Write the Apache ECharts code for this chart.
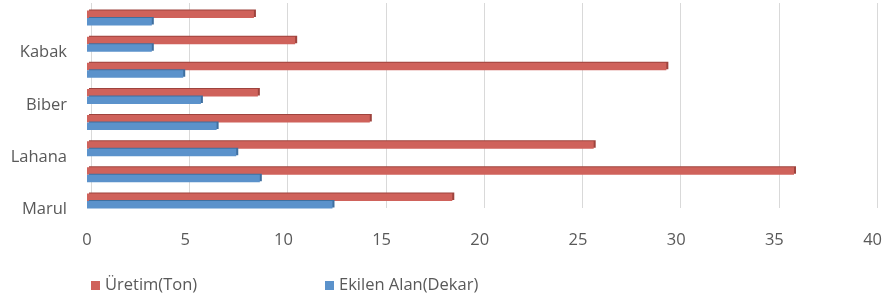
<!DOCTYPE html>
<html>
<head>
<meta charset="utf-8">
<script src="https://cdn.jsdelivr.net/npm/echarts@6/dist/echarts.min.js"></script>
<style>
  html, body { margin: 0; padding: 0; background: #fff; }
  #chart { width: 885px; height: 299px; }
</style>
</head>
<body>
<div id="chart"></div>
<script>
// categories from bottom to top, only every other name is shown on the axis
const categories = ['Marul', '(2)', 'Lahana', '(4)', 'Biber', '(6)', 'Kabak', '(8)']
const uretim = [18.6, 36.0, 25.8, 14.4, 8.7, 29.5, 10.6, 8.5]
const ekilenAlan = [12.5, 8.8, 7.6, 6.6, 5.8, 4.9, 3.3, 3.3]
const xTicks = [0, 5, 10, 15, 20, 25, 30, 35, 40]

const textColor = '#595959'
const fontFamily = '"Open Sans", sans-serif'
const fontSize = 16.5

const chart = echarts.init(document.getElementById('chart'))

const legendText = { color: textColor, fontSize, fontFamily }

chart.setOption({
  animation: false,
  textStyle: { fontFamily },
  grid: [
    // front plane: bars and labels
    { left: 87, right: 12, top: 5, bottom: 85 },
    // back wall: gridlines sit a little to the right (3d look)
    { left: 91, right: 8, top: 3, bottom: 91 }
  ],
  legend: [{
    left: 86,
    top: 272,
    itemWidth: 9,
    itemHeight: 9,
    itemGap: 5,
    icon: 'rect',
    itemStyle: { borderWidth: 0 },
    data: ['Üretim(Ton)'],
    textStyle: legendText
  }, {
    left: 320,
    top: 272,
    itemWidth: 9,
    itemHeight: 9,
    icon: 'rect',
    itemStyle: { borderWidth: 0 },
    data: ['Ekilen Alan(Dekar)'],
    textStyle: legendText
  }],
  xAxis: [{
    gridIndex: 0,
    type: 'value',
    min: xTicks[0],
    max: xTicks[xTicks.length - 1],
    interval: 5,
    axisLine: { show: false },
    axisTick: { show: false },
    axisLabel: {
      color: textColor,
      fontSize,
      margin: 18
    },
    splitLine: { show: false }
  }, {
    gridIndex: 1,
    type: 'value',
    min: xTicks[0],
    max: xTicks[xTicks.length - 1],
    interval: 5,
    axisLine: { show: false },
    axisTick: { show: false },
    axisLabel: { show: false },
    splitLine: {
      lineStyle: { color: '#d9d9d9', width: 1 }
    }
  }],
  yAxis: [{
    gridIndex: 0,
    type: 'category',
    data: categories,
    axisLine: { show: false },
    axisTick: { show: false },
    axisLabel: {
      interval: 1,
      color: textColor,
      fontSize,
      margin: 20,
      verticalAlign: 'top'
    }
  }, {
    gridIndex: 1,
    type: 'category',
    data: categories,
    show: false
  }],
  series: [{
    // first series sits on top in each band
    name: 'Üretim(Ton)',
    type: 'bar',
    data: uretim,
    barWidth: 7.5,
    barGap: '0%',
    itemStyle: {
      color: '#cf625b',
      shadowColor: '#9e433d',
      shadowOffsetX: 2,
      shadowOffsetY: -1
    }
  }, {
    name: 'Ekilen Alan(Dekar)',
    type: 'bar',
    data: ekilenAlan,
    barWidth: 7.5,
    barGap: '0%',
    itemStyle: {
      color: '#5b92cb',
      shadowColor: '#3f6f9f',
      shadowOffsetX: 2,
      shadowOffsetY: -1
    }
  }]
})
</script>
</body>
</html>
